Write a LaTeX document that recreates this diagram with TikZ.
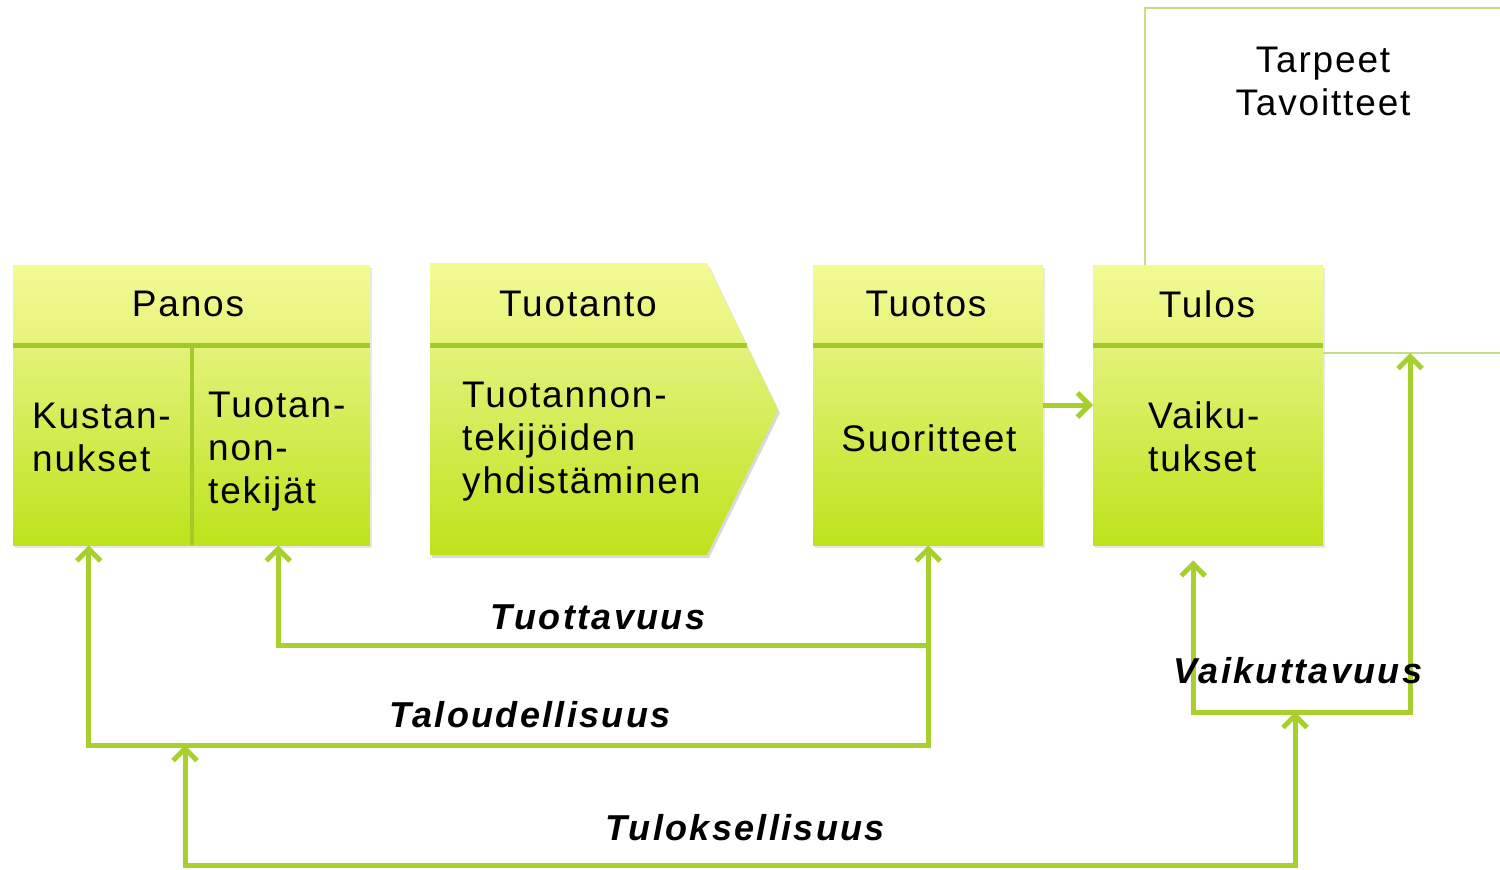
\documentclass[tikz,border=0pt]{standalone}
\usepackage{fontspec}
\setmainfont{Liberation Sans}
\newfontfamily\spaced[LetterSpace=5]{Liberation Sans}
\newfontfamily\lblspaced[LetterSpace=6.5]{Liberation Sans}
\usetikzlibrary{arrows.meta,shadows,calc}
\definecolor{hdrTop}{HTML}{F3FA93}
\definecolor{hdrBot}{HTML}{E6F37A}
\definecolor{bodyTop}{HTML}{E4F27B}
\definecolor{bodyBot}{HTML}{BDE31B}
\definecolor{sepc}{HTML}{A4CA2A}
\definecolor{arrc}{HTML}{A8D02C}
\definecolor{thinc}{HTML}{C4DF86}
\tikzset{
  boxshadow/.style={drop shadow={opacity=0.18,shadow xshift=2pt,shadow yshift=-3pt}},
  hdr/.style={rectangle,inner sep=0pt,top color=hdrTop,bottom color=hdrBot,draw=none,anchor=north west,boxshadow},
  body/.style={rectangle,inner sep=0pt,top color=bodyTop,bottom color=bodyBot,draw=none,anchor=north west,boxshadow},
  sepline/.style={draw=sepc,line width=5pt},
  divline/.style={draw=sepc,line width=4pt},
  conn/.style={draw=arrc,line width=5pt,line join=miter},
  tip/.style={-{Straight Barb[length=12pt,width=24pt,line width=5pt]}},
  tipboth/.style={{Straight Barb[length=12pt,width=24pt,line width=5pt]}-{Straight Barb[length=12pt,width=24pt,line width=5pt]}},
  tipstart/.style={{Straight Barb[length=12pt,width=24pt,line width=5pt]}-},
  tline/.style={draw=thinc,line width=2.5pt},
  big/.style={font=\spaced\fontsize{37}{43}\selectfont,inner sep=0pt},
  lbl/.style={font=\lblspaced\fontsize{36}{40}\selectfont\bfseries\itshape,inner sep=0pt},
}
\begin{document}
\begin{tikzpicture}[x=1pt,y=-1pt]
\useasboundingbox (0,0) rectangle (1500,870);

% thin lines (Tarpeet / Tavoitteet frame)
\coordinate (edgeTop) at (1500,8);
\coordinate (edgeMid) at (1500,353);

% Panos
\node[hdr,minimum width=357pt,minimum height=80pt] (panosH) at (13,265) {};
\node[body,minimum width=179pt,minimum height=200pt] (kustB) at (13,345) {};
\node[body,minimum width=178pt,minimum height=200pt] (tekB) at (192,345) {};
\draw[sepline] (panosH.south west) -- (panosH.south east);
\draw[divline] (kustB.north east) -- (kustB.south east);
\node[big] (panosT) at (188,304) {Panos};
\node[big,align=left,anchor=west] (kustT) at (32,437) {Kustan-\\nukset};
\node[big,align=left,anchor=west] (tekT) at (208,452) {Tuotan-\\non-\\tekijät};

% Tuotanto (chevron)
\fill[black,opacity=0.15] (432,266) -- (709,266) -- (780,413) -- (709,558) -- (432,558) -- cycle;
\shade[top color=hdrTop,bottom color=hdrBot] (430,263) -- (707,263) -- (746.6,345) -- (430,345) -- cycle;
\shade[top color=bodyTop,bottom color=bodyBot] (430,345) -- (746.6,345) -- (778,410) -- (707,555) -- (430,555) -- cycle;
\coordinate (tsepL) at (430,345);
\coordinate (tsepR) at (747,345);
\draw[sepline] (tsepL) -- (tsepR);
\node[big] (tuotantoT) at (578,304) {Tuotanto};
\node[big,align=left,anchor=west] (tuotantoB) at (462,442) {Tuotannon-\\tekijöiden\\yhdistäminen};

% Tuotos
\node[hdr,minimum width=230pt,minimum height=80pt] (tuotosH) at (813,265) {};
\node[body,minimum width=230pt,minimum height=200pt] (tuotosB) at (813,345) {};
\draw[sepline] (tuotosH.south west) -- (tuotosH.south east);
\node[big] (tuotosT) at (926,304) {Tuotos};
\node[big] (suorT) at (929,438) {Suoritteet};

% Tulos
\node[hdr,minimum width=230pt,minimum height=80pt] (tulosH) at (1093,265) {};
\node[body,minimum width=230pt,minimum height=200pt] (tulosB) at (1093,345) {};
\draw[sepline] (tulosH.south west) -- (tulosH.south east);
\node[big] (tulosT) at (1207,304) {Tulos};
\node[big,align=left,anchor=west] (vaikT) at (1148,437) {Vaiku-\\tukset};

% Tarpeet / Tavoitteet
\draw[tline] ([xshift=52pt]tulosH.north west) |- (edgeTop);
\draw[tline] ([yshift=-8pt]tulosB.north east) -- (edgeMid);
\node[big,align=center] (tarpeet) at (1323,81) {Tarpeet\\Tavoitteet};

% Tuotos -> Tulos
\draw[conn,tip] ([yshift=-60pt]tuotosB.north east) -- ([yshift=-60pt]tulosB.north west);

% helper levels
\coordinate (tyY) at (0,645);
\coordinate (taY) at (0,745);
\coordinate (tuY) at (0,865);
\coordinate (vaY) at (0,712);
\coordinate (tlL) at (185,745);
\coordinate (tlR) at (1295,712);
\coordinate (vaTop) at (1410,353);

% Tuottavuus
\draw[conn,tipboth] ([xshift=-3pt]tekB.south) -- ([xshift=-3pt]tekB.south |- tyY) -- (tuotosB.south |- tyY) -- (tuotosB.south);
% Taloudellisuus
\draw[conn,tipstart] ([xshift=-14pt]kustB.south) -- ([xshift=-14pt]kustB.south |- taY) -- (tuotosB.south |- taY) -- (tuotosB.south |- tyY);
% Tuloksellisuus
\draw[conn,tipboth] (tlL) -- (tlL |- tuY) -- (tlR |- tuY) -- (tlR);
% Vaikuttavuus
\draw[conn,tipboth] ([xshift=-15pt,yshift=-15pt]tulosB.south) -- ([xshift=-15pt]tulosB.south |- vaY) -- (vaTop |- vaY) -- (vaTop);

% labels
\node[lbl] (lTuott) at (598,617) {Tuottavuus};
\node[lbl] (lTalo) at (530,715) {Taloudellisuus};
\node[lbl] (lTulok) at (745,828) {Tuloksellisuus};
\node[lbl] (lVaik) at (1298,671) {Vaikuttavuus};
\end{tikzpicture}
\end{document}
